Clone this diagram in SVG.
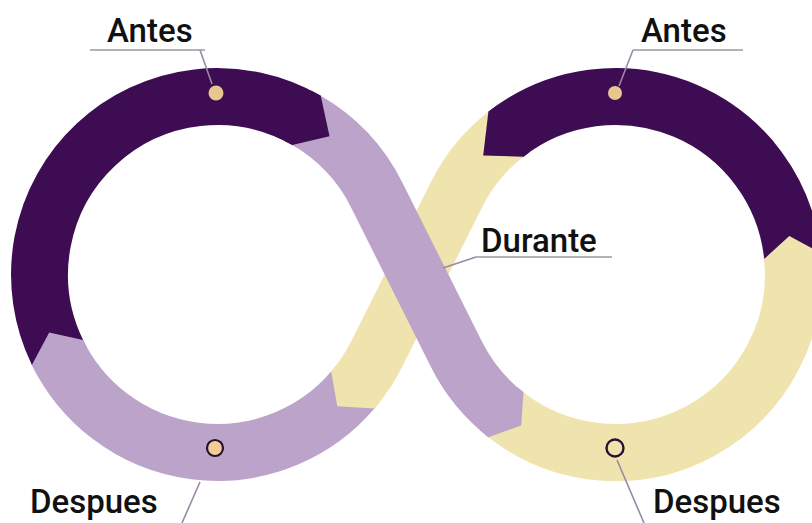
<svg xmlns="http://www.w3.org/2000/svg" width="812" height="523" viewBox="0 0 812 523">
<style>
.band{fill:none;stroke-width:57;stroke-linecap:butt}
.dk{stroke:#3d0c52}.lv{stroke:#bba3c9}.bg{stroke:#efe3ae}
.tdk{fill:#3d0c52}.tlv{fill:#bba3c9}.tbg{fill:#efe3ae}
.lbl{font-family:Roboto,"Liberation Sans",sans-serif;font-weight:500;font-size:33px;fill:#111}
.ul{stroke:#9a9a9a;stroke-width:1.6;fill:none}
.ld{stroke:#9a8aa4;stroke-width:1.6;fill:none}
</style>
<rect width="812" height="523" fill="#ffffff"/>
<g id="ring">
  <g id="beige-cross"><path class="band bg" d="M505.9,134.2 A178,178 0 0 0 456.3,194.9 L376.7,354.1 A178,178 0 0 1 352.8,390.1"/></g>
  <g id="lavender-bottom"><path class="band lv" d="M352.8,390.1 A178,178 0 0 1 57.5,352.5"/></g>
  <g id="dark-left"><path class="band dk" d="M57.5,352.5 A178,178 0 0 1 306.5,120.4"/></g>
  <g id="lavender-cross"><path class="band lv" d="M306.5,120.4 A178,178 0 0 1 376.7,194.9 L456.3,354.1 A178,178 0 0 0 505.9,414.8"/></g>
  <g id="beige-right"><path class="band bg" d="M505.9,414.8 A178,178 0 0 0 792.5,255.9"/></g>
  <g id="dark-right"><path class="band dk" d="M792.5,255.9 A178,178 0 0 0 505.9,134.2"/></g>
  <g id="tips">
    <polygon class="tbg" points="380.2,401.6 374.5,408.6 337.3,406.2 331.2,371.6 335.3,366.5"/>
    <polygon class="tlv" points="36.9,374.6 31.9,365 49.2,332.5 83.1,340 86.8,347"/>
    <polygon class="tdk" points="311.2,90.5 320.75,95.7 329.5,136.2 292.25,145 285.4,141.3"/>
    <polygon class="tlv" points="480,430.3 488.4,437.2 521.2,425.4 523.5,392.3 517.4,387.3"/>
    <polygon class="tbg" points="821.7,263.7 820.9,252.9 789.3,236 764.2,258.9 764.8,266.7"/>
    <polygon class="tdk" points="497.1,105.3 488.4,111.8 483.2,155.4 523.5,156.7 529.7,152"/>
  </g>
</g>
<g id="connectors">
  <path class="ul" d="M90,50 H205"/>
  <path class="ld" d="M200,50 L212,84"/>
  <path class="ul" d="M633,50 H743"/>
  <path class="ld" d="M633,50 L619,86"/>
  <path class="ul" d="M476,257 H612"/>
  <path class="ld" d="M476,257 L443,268"/>
  <path class="ld" d="M200,482 L182,523"/>
  <path class="ld" d="M617,460 L644,523"/>
</g>
<g id="dot-antes-left"><circle cx="216" cy="93" r="7.5" fill="#e8c690"/></g>
<g id="dot-antes-right"><circle cx="615" cy="93" r="7" fill="#e8c690"/></g>
<g id="dot-despues-left"><circle cx="215" cy="448" r="8" fill="#efcd94" stroke="#2a0f33" stroke-width="2.2"/></g>
<g id="dot-despues-right"><circle cx="615" cy="448" r="8.5" fill="#efe3ae" stroke="#2a0f33" stroke-width="2.4"/></g>
<g id="label-antes-left"><text class="lbl" x="107" y="42">Antes</text></g>
<g id="label-antes-right"><text class="lbl" x="641" y="42">Antes</text></g>
<g id="label-durante"><text class="lbl" x="481" y="252">Durante</text></g>
<g id="label-despues-left"><text class="lbl" x="30" y="513">Despues</text></g>
<g id="label-despues-right"><text class="lbl" x="653" y="513">Despues</text></g>
</svg>
